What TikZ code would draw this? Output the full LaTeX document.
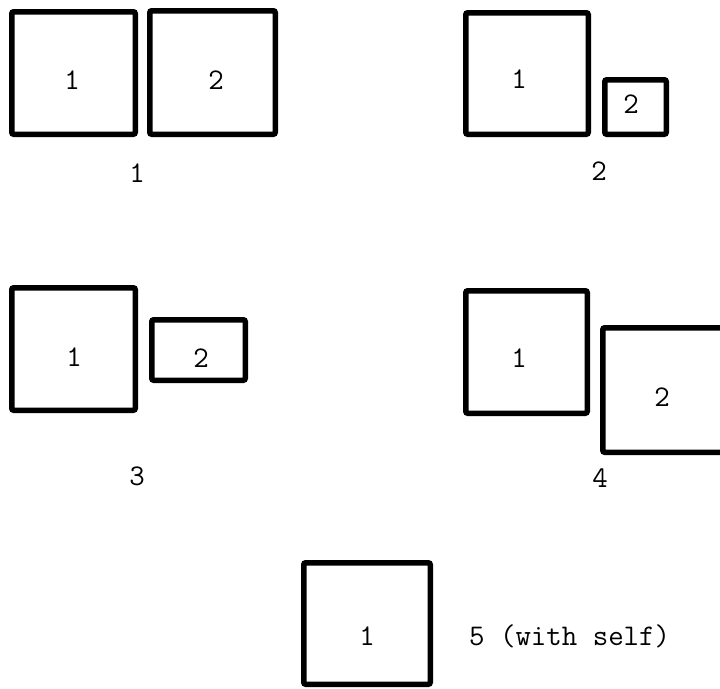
\documentclass[tikz,border=0pt]{standalone}
\usepackage{fontspec}
\begin{document}
\begin{tikzpicture}[x=1pt, y=-1pt,
  cell/.style={draw=black, line width=5.5pt, rounded corners=2pt, rectangle,
    inner sep=0pt, outer sep=0pt, minimum width=#1},
  cell/.default=120pt,
  num/.style={inner sep=0pt, anchor=base, font=\fontsize{30}{35}\selectfont\ttfamily},
  caption/.style={num}]
  \useasboundingbox (0,0) rectangle (720,688);
  \clip (0,0) rectangle (720,688);

  % case 1: two equal squares side by side
  \node[cell=123.5pt, minimum height=122.5pt] (a1) at (73.5,73) {};
  \node[cell=125.5pt, minimum height=123.5pt] (a2) at (212.5,72.5) {};
  \node[num] (ta1) at (72,89) {1};
  \node[num] (ta2) at (216,89) {2};
  \node[caption] (ca) at (137,182) {1};

  % case 2: large square and small square, bottoms aligned
  \node[cell=122.5pt, minimum height=121.5pt] (b1) at (527,73.5) {};
  \node[cell=61.5pt, minimum height=54.5pt] (b2) at (635.5,107) {};
  \node[num] (tb1) at (519,88) {1};
  \node[num] (tb2) at (631,113) {2};
  \node[caption] (cb) at (599,180) {2};

  % case 3: square and a flat rectangle at mid height
  \node[cell=123.5pt, minimum height=122.5pt] (c1) at (73.5,349) {};
  \node[cell=93.5pt, minimum height=60.5pt] (c2) at (198.5,350) {};
  \node[num] (tc1) at (74,366) {1};
  \node[num] (tc2) at (201,367) {2};
  \node[caption] (cc) at (137,485) {3};

  % case 4: square and an offset box running off the right edge
  \node[cell=121.5pt, minimum height=122.5pt] (d1) at (526.5,352) {};
  \node[cell=122.5pt, minimum height=124.5pt] (d2) at (664,390) {};
  \node[num] (td1) at (519,367) {1};
  \node[num] (td2) at (662,406) {2};
  \node[caption] (cd) at (600,487) {4};

  % case 5: a single box
  \node[cell=126.5pt, minimum height=121.5pt] (e1) at (367,623.5) {};
  \node[num] (te1) at (367,645) {1};
  \node[caption, anchor=base west] (ce) at (469,645) {5 (with self)};
\end{tikzpicture}
\end{document}
